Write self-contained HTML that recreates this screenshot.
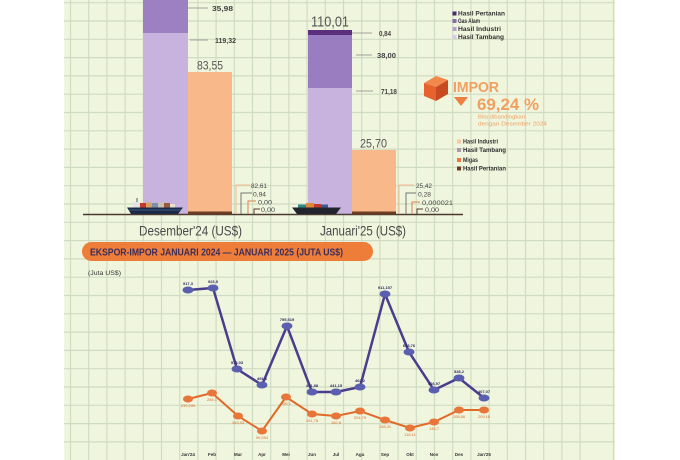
<!DOCTYPE html>
<html><head><meta charset="utf-8"><style>
html,body{margin:0;padding:0;background:#fff;}
svg{display:block;}
text{font-family:"Liberation Sans",sans-serif;}
</style></head><body>
<svg width="680" height="460" viewBox="0 0 680 460" xmlns="http://www.w3.org/2000/svg">
<rect x="0" y="0" width="680" height="460" fill="#ffffff"/>
<rect x="64" y="0" width="551" height="460" fill="#f0f5de"/>
<g stroke="#cfdcc2" stroke-width="1.2">
<path d="M70.5 0V460M88.7 0V460M106.9 0V460M125.1 0V460M143.3 0V460M161.5 0V460M179.7 0V460M197.9 0V460M216.1 0V460M234.3 0V460M252.5 0V460M270.7 0V460M288.9 0V460M307.1 0V460M325.3 0V460M343.5 0V460M361.7 0V460M379.9 0V460M398.1 0V460M416.3 0V460M434.5 0V460M452.7 0V460M470.9 0V460M489.1 0V460M507.3 0V460M525.5 0V460M543.7 0V460M561.9 0V460M580.1 0V460M613.5 0V460"/>
<path d="M64 2.7H615M64 21H615M64 39.3H615M64 57.6H615M64 75.9H615M64 94.2H615M64 112.5H615M64 130.8H615M64 149.1H615M64 167.4H615M64 185.7H615M64 204H615M64 222.3H615M64 240.6H615M64 258.9H615M64 277.2H615M64 295.5H615M64 313.8H615M64 332.1H615M64 350.4H615M64 368.7H615M64 387H615M64 405.3H615M64 423.6H615M64 441.9H615"/>
</g>

<!-- Dec export bar -->
<rect x="143" y="0" width="45" height="33" fill="#9c80c2"/>
<rect x="143" y="33" width="45" height="181" fill="#c8b3de"/>
<!-- Dec import bar -->
<rect x="188" y="72" width="44" height="141" fill="#f8b88a"/>
<!-- Jan export bar -->
<rect x="308" y="30" width="44" height="5" fill="#5b2e7e"/>
<rect x="308" y="35" width="44" height="53" fill="#9a7cc0"/>
<rect x="308" y="88" width="44" height="126" fill="#c8b3de"/>
<!-- Jan import bar -->
<rect x="352" y="150" width="44" height="63" fill="#f8b88a"/>

<!-- baseline -->
<line x1="83" y1="214.5" x2="463" y2="214.5" stroke="#4a3a30" stroke-width="1.5"/>
<rect x="188" y="211.5" width="44" height="3" fill="#6b3b22"/>
<rect x="352" y="211.5" width="44" height="3" fill="#6b3b22"/>

<!-- leaders top -->
<g stroke="#8a8a8a" stroke-width="0.8" fill="none">
<path d="M188 8H208"/><path d="M190 40H208"/>
<path d="M352 33H372"/><path d="M356 55H372"/><path d="M356 91H373"/>
</g>
<g font-size="7" font-weight="bold" fill="#444">
<text x="212" y="11" textLength="21" lengthAdjust="spacingAndGlyphs">35,98</text>
<text x="215" y="43" textLength="21" lengthAdjust="spacingAndGlyphs">119,32</text>
<text x="379" y="36" textLength="12" lengthAdjust="spacingAndGlyphs">0,84</text>
<text x="377" y="58" textLength="19" lengthAdjust="spacingAndGlyphs">38,00</text>
<text x="381" y="94" textLength="16" lengthAdjust="spacingAndGlyphs">71,18</text>
</g>
<text x="197" y="69.5" font-size="12" fill="#555" textLength="26" lengthAdjust="spacingAndGlyphs">83,55</text>
<text x="311" y="26.5" font-size="15" fill="#555" textLength="38" lengthAdjust="spacingAndGlyphs">110,01</text>
<text x="360" y="147.5" font-size="12" fill="#555" textLength="27" lengthAdjust="spacingAndGlyphs">25,70</text>

<!-- small leaders -->
<g fill="none" stroke-width="1">
<path d="M236 214V185H250" stroke="#f5b98e"/>
<path d="M241 214V193H252" stroke="#777"/>
<path d="M248 214V201H256" stroke="#d8834a"/>
<path d="M254 214V209H260" stroke="#5a3a2a"/>
<path d="M399 214V185H414" stroke="#f5b98e"/>
<path d="M406 214V193H416" stroke="#777"/>
<path d="M412 214V202H420" stroke="#d8834a"/>
<path d="M417 214V209H423" stroke="#5a3a2a"/>
</g>
<g font-size="6.5" fill="#444">
<text x="251" y="188" textLength="16" lengthAdjust="spacingAndGlyphs">82,61</text>
<text x="253" y="196.5" textLength="13" lengthAdjust="spacingAndGlyphs">0,94</text>
<text x="258" y="204.5" textLength="14" lengthAdjust="spacingAndGlyphs">0,00</text>
<text x="261" y="212" textLength="14" lengthAdjust="spacingAndGlyphs">0,00</text>
<text x="416" y="188" textLength="16" lengthAdjust="spacingAndGlyphs">25,42</text>
<text x="418" y="196.5" textLength="13" lengthAdjust="spacingAndGlyphs">0,28</text>
<text x="422" y="205" textLength="31" lengthAdjust="spacingAndGlyphs">0,000021</text>
<text x="425" y="212" textLength="14" lengthAdjust="spacingAndGlyphs">0,00</text>
</g>

<!-- ships -->
<g>
<line x1="137" y1="198" x2="137" y2="205" stroke="#333" stroke-width="0.8"/>
<rect x="133" y="202" width="7" height="6" fill="#e4e4e4"/>
<rect x="140" y="203" width="6" height="5" fill="#c0392b"/>
<rect x="146" y="202.5" width="6" height="5.5" fill="#d9a066"/>
<rect x="152" y="203" width="6" height="5" fill="#7a8fb0"/>
<rect x="158" y="202.5" width="6" height="5.5" fill="#c8c0b0"/>
<rect x="164" y="203" width="6" height="5" fill="#9a5a3a"/>
<rect x="170" y="204" width="5" height="4" fill="#e8e0d0"/>
<path d="M127 207.5H183L178 214H131Z" fill="#1d2a45"/>
<path d="M129 210H181" stroke="#3b5a8a" stroke-width="1"/>
<path d="M298 204.5h8v3.5h-8z" fill="#2a8a8a"/>
<path d="M306 203h8v5h-8z" fill="#e0873a"/>
<path d="M314 204h7v4h-7z" fill="#c0392b"/>
<path d="M321 204.5h7v3.5h-7z" fill="#3a5a9a"/>
<path d="M292 207.5H341L336 214H297Z" fill="#22252e"/>
</g>

<text x="139" y="235.5" font-size="14" fill="#4a4a4a" textLength="103" lengthAdjust="spacingAndGlyphs">Desember'24 (US$)</text>
<text x="320" y="235.5" font-size="14" fill="#4a4a4a" textLength="86" lengthAdjust="spacingAndGlyphs">Januari'25 (US$)</text>

<!-- legend 1 -->
<rect x="452.5" y="11.5" width="4" height="4" fill="#4a2a6a"/>
<rect x="452.5" y="19" width="4" height="4" fill="#8a6aaa"/>
<rect x="452.5" y="27" width="4" height="4" fill="#b8a0cc"/>
<rect x="452.5" y="35" width="4" height="4" fill="#d8cce6"/>
<g font-size="6" font-weight="bold" fill="#333">
<text x="458" y="15.5" textLength="47" lengthAdjust="spacingAndGlyphs">Hasil Pertanian</text>
<text x="458" y="23" textLength="22" lengthAdjust="spacingAndGlyphs">Gas Alam</text>
<text x="458" y="31" textLength="43" lengthAdjust="spacingAndGlyphs">Hasil Industri</text>
<text x="458" y="39" textLength="46" lengthAdjust="spacingAndGlyphs">Hasil Tambang</text>
</g>

<!-- IMPOR -->
<polygon points="424,83 436,76 448,80 436,87" fill="#f2894a"/>
<polygon points="424,83 436,87 436,101 424,96" fill="#e8622e"/>
<polygon points="436,87 448,80 448,94 436,101" fill="#c94a20"/>
<text x="453" y="92" font-size="15" font-weight="bold" fill="#f0a060" textLength="46" lengthAdjust="spacingAndGlyphs">IMPOR</text>
<polygon points="454,97 468,97 461,106" fill="#f08040"/>
<text x="477" y="110" font-size="17" font-weight="bold" fill="#f0a060" textLength="62" lengthAdjust="spacingAndGlyphs">69,24 %</text>
<text x="478" y="118.5" font-size="5" fill="#f0a060" textLength="47" lengthAdjust="spacingAndGlyphs">Bila dibandingkan</text>
<text x="478" y="125.5" font-size="5" fill="#f0a060" textLength="69" lengthAdjust="spacingAndGlyphs">dengan Desember 2024</text>

<!-- legend 2 -->
<rect x="457" y="139.5" width="4" height="4" fill="#f8c8a0"/>
<rect x="457" y="148" width="4" height="4" fill="#a89aa8"/>
<rect x="457" y="158" width="4" height="4" fill="#e87a40"/>
<rect x="457" y="166.5" width="4" height="4" fill="#6a3a28"/>
<g font-size="6" font-weight="bold" fill="#333">
<text x="463" y="143.5" textLength="35" lengthAdjust="spacingAndGlyphs">Hasil Industri</text>
<text x="463" y="152" textLength="43" lengthAdjust="spacingAndGlyphs">Hasil Tambang</text>
<text x="463" y="162" textLength="15" lengthAdjust="spacingAndGlyphs">Migas</text>
<text x="463" y="170.5" textLength="43" lengthAdjust="spacingAndGlyphs">Hasil Pertanian</text>
</g>

<!-- banner -->
<rect x="82" y="242" width="291" height="19" rx="9.5" fill="#ef7d3a"/>
<text x="90" y="255.5" font-size="10" font-weight="bold" fill="#3a2d5a" textLength="253" lengthAdjust="spacingAndGlyphs">EKSPOR-IMPOR JANUARI 2024 — JANUARI 2025 (JUTA US$)</text>
<text x="88" y="275" font-size="6" fill="#333" textLength="33" lengthAdjust="spacingAndGlyphs">(Juta US$)</text>

<!-- lines -->
<polyline points="188,399 212,393 238,416 262,431 286,397 312,414 336,416 360,411 385,420 410,428 434,422 459,410 484,410" fill="none" stroke="#e06a28" stroke-width="2"/>
<g fill="#e8763a">
<ellipse cx="188" cy="399" rx="5" ry="3.5"/><ellipse cx="212" cy="393" rx="5" ry="3.5"/><ellipse cx="238" cy="416" rx="5" ry="3.5"/><ellipse cx="262" cy="431" rx="5" ry="3.5"/><ellipse cx="286" cy="397" rx="5" ry="3.5"/><ellipse cx="312" cy="414" rx="5" ry="3.5"/><ellipse cx="336" cy="416" rx="5" ry="3.5"/><ellipse cx="360" cy="411" rx="5" ry="3.5"/><ellipse cx="385" cy="420" rx="5" ry="3.5"/><ellipse cx="410" cy="428" rx="5" ry="3.5"/><ellipse cx="434" cy="422" rx="5" ry="3.5"/><ellipse cx="459" cy="410" rx="5" ry="3.5"/><ellipse cx="484" cy="410" rx="5" ry="3.5"/>
</g>
<polyline points="188,290 213,288 237,369 262,385 287,326 312,392 336,392 360,387 385,294 409,352 434,390 459,378 484,398" fill="none" stroke="#4a3d8c" stroke-width="2.5"/>
<g fill="#5b5fb0">
<ellipse cx="188" cy="290" rx="5.5" ry="3.5"/><ellipse cx="213" cy="288" rx="5.5" ry="3.5"/><ellipse cx="237" cy="369" rx="5.5" ry="3.5"/><ellipse cx="262" cy="385" rx="5.5" ry="3.5"/><ellipse cx="287" cy="326" rx="5.5" ry="3.5"/><ellipse cx="312" cy="392" rx="5.5" ry="3.5"/><ellipse cx="336" cy="392" rx="5.5" ry="3.5"/><ellipse cx="360" cy="387" rx="5.5" ry="3.5"/><ellipse cx="385" cy="294" rx="5.5" ry="3.5"/><ellipse cx="409" cy="352" rx="5.5" ry="3.5"/><ellipse cx="434" cy="390" rx="5.5" ry="3.5"/><ellipse cx="459" cy="378" rx="5.5" ry="3.5"/><ellipse cx="484" cy="398" rx="5.5" ry="3.5"/>
</g>
<g font-size="4" font-weight="bold" fill="#2c2a60" text-anchor="middle">
<text x="188" y="285">917,3</text><text x="213" y="283">923,9</text><text x="237" y="364">573,03</text><text x="262" y="380">491,6</text><text x="287" y="321">795,519</text><text x="312" y="387">441,88</text><text x="336" y="387">441,15</text><text x="360" y="382">462,2</text><text x="385" y="289">911,157</text><text x="409" y="347">633,76</text><text x="434" y="385">466,97</text><text x="459" y="373">528,2</text><text x="484" y="393">407,07</text>
</g>
<g font-size="4" fill="#d8702e" text-anchor="middle">
<text x="188" y="407">239,339</text><text x="212" y="401">284,1</text><text x="238" y="424">183,93</text><text x="262" y="439">99,554</text><text x="286" y="405">256,1</text><text x="312" y="422">191,78</text><text x="336" y="424">182,8</text><text x="360" y="419">204,79</text><text x="385" y="428">158,41</text><text x="410" y="436">116,11</text><text x="434" y="430">145,7</text><text x="459" y="418">208,66</text><text x="484" y="418">209,18</text>
</g>
<g font-size="4.5" font-weight="bold" fill="#333" text-anchor="middle">
<text x="188" y="456">Jan'24</text><text x="212" y="456">Feb</text><text x="238" y="456">Mar</text><text x="262" y="456">Apr</text><text x="286" y="456">Mei</text><text x="312" y="456">Jun</text><text x="336" y="456">Jul</text><text x="360" y="456">Agu</text><text x="385" y="456">Sep</text><text x="410" y="456">Okt</text><text x="434" y="456">Nov</text><text x="459" y="456">Des</text><text x="484" y="456">Jan'25</text>
</g>
</svg>
</body></html>
